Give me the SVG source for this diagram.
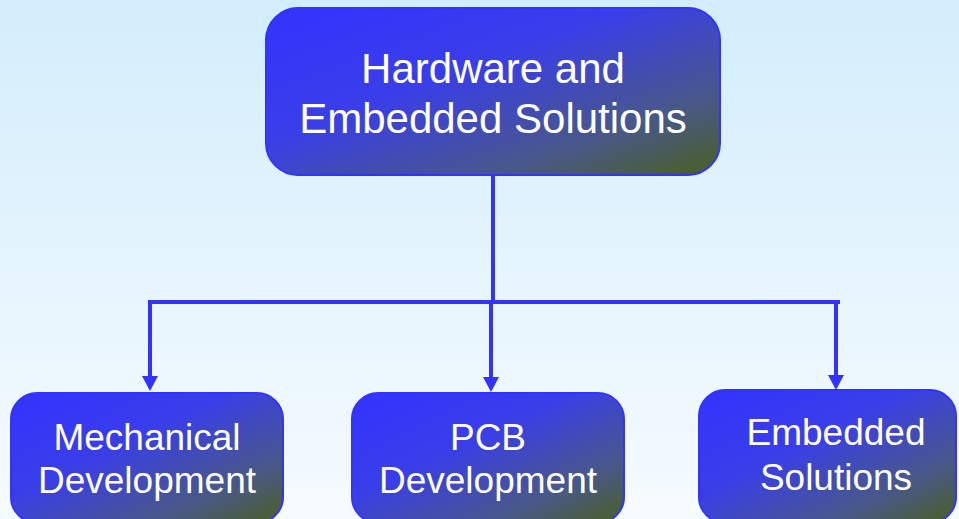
<svg xmlns="http://www.w3.org/2000/svg" width="959" height="519" viewBox="0 0 959 519">
<defs>
<linearGradient id="bg" x1="0" y1="0" x2="0" y2="1">
<stop offset="0" stop-color="#d3edfc"/>
<stop offset="1" stop-color="#f6fbff"/>
</linearGradient>
<linearGradient id="box" x1="0" y1="0" x2="1" y2="1">
<stop offset="0" stop-color="#3333ff"/>
<stop offset="0.4" stop-color="#3a3ee8"/>
<stop offset="0.75" stop-color="#48588a"/>
<stop offset="1" stop-color="#4b6020"/>
</linearGradient>
<marker id="arr" viewBox="0 0 15 16" refX="0" refY="8" markerWidth="15" markerHeight="16" markerUnits="userSpaceOnUse" orient="auto">
<path d="M0,0 L15,8 L0,16 Z" fill="#3333ff"/>
</marker>
</defs>
<style>
.node rect{fill:url(#box);stroke:#3333ff;stroke-width:2}
.node text{font-family:"Liberation Sans",Arial,sans-serif;fill:#ffffff;text-anchor:middle}
.big{font-size:42px}
.small{font-size:37px}
.conn{stroke:#3333ff;stroke-width:4;fill:none}
</style>
<rect x="0" y="0" width="959" height="519" fill="url(#bg)"/>
<g id="connectors">
<line class="conn" x1="493" y1="175" x2="493" y2="302"/>
<line class="conn" x1="148" y1="302" x2="840" y2="302"/>
<line class="conn" x1="150" y1="302" x2="150" y2="376" marker-end="url(#arr)"/>
<line class="conn" x1="491" y1="302" x2="491" y2="377" marker-end="url(#arr)"/>
<line class="conn" x1="836" y1="300" x2="836" y2="375" marker-end="url(#arr)"/>
</g>
<g id="top" class="node">
<rect x="266" y="8" width="454" height="167" rx="32"/>
<text class="big" x="493" y="83">Hardware and</text>
<text class="big" x="493" y="133">Embedded Solutions</text>
</g>
<g id="mech" class="node">
<rect x="11" y="393" width="272" height="130" rx="26"/>
<text class="small" x="147" y="450">Mechanical</text>
<text class="small" x="147" y="493">Development</text>
</g>
<g id="pcb" class="node">
<rect x="352" y="393" width="272" height="130" rx="26"/>
<text class="small" x="488" y="450">PCB</text>
<text class="small" x="488" y="493">Development</text>
</g>
<g id="emb" class="node">
<rect x="699" y="390" width="257" height="133" rx="26"/>
<text class="small" x="836" y="445">Embedded</text>
<text class="small" x="836" y="490">Solutions</text>
</g>
</svg>
